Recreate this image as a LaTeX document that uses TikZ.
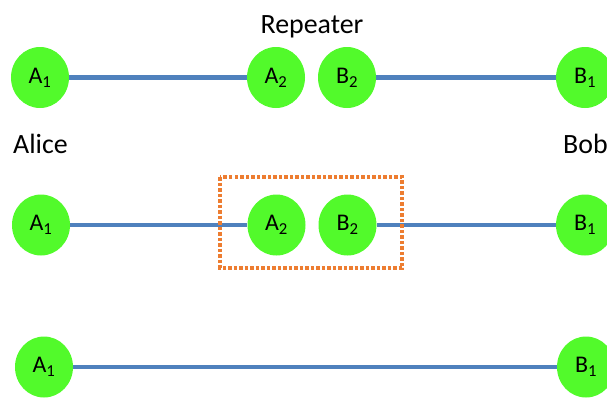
\documentclass[tikz,border=0pt]{standalone}
\usepackage{fontspec}
\setmainfont{Carlito}
\usetikzlibrary{shapes.geometric}
\definecolor{qgreen}{RGB}{82,250,43}
\definecolor{qblue}{RGB}{79,129,189}
\definecolor{qorange}{RGB}{237,125,49}
\tikzset{
  qubit/.style={ellipse, fill=qgreen, draw=none, minimum width=58bp, minimum height=61bp,
                inner sep=0pt, font=\fontsize{24}{26}\selectfont},
  link/.style={draw=qblue, line width=4.5bp},
  swapbox/.style={draw=qorange, line width=3.5bp, dash pattern=on 3.5bp off 2bp},
  caption/.style={font=\fontsize{28}{32}\selectfont, inner sep=0pt}
}
\begin{document}
\begin{tikzpicture}[x=1bp, y=-1bp]
  \useasboundingbox (0,0) rectangle (607,399);

  % captions
  \node[caption, anchor=base] (rep) at (312,33) {Repeater};
  \node[caption, anchor=base west] (alice) at (13,153) {Alice};
  \node[caption, anchor=base west] (bob) at (563,153) {Bob};

  % row 1: two separate entangled pairs
  \node[qubit] (a1r1) at (40,77.5) {A\textsubscript{1}};
  \node[qubit] (a2r1) at (276,77.5) {A\textsubscript{2}};
  \node[qubit] (b2r1) at (347,77.5) {B\textsubscript{2}};
  \node[qubit] (b1r1) at (585,77.5) {B\textsubscript{1}};
  \draw[link] (a1r1) -- (a2r1);
  \draw[link] (b2r1) -- (b1r1);

  % row 2: Bell measurement at the repeater
  \node[qubit] (a1r2) at (41,225) {A\textsubscript{1}};
  \node[qubit] (a2r2) at (276.5,225) {A\textsubscript{2}};
  \node[qubit] (b2r2) at (347.5,225) {B\textsubscript{2}};
  \node[qubit] (b1r2) at (585,225) {B\textsubscript{1}};
  \draw[link] (a1r2) -- (a2r2);
  \draw[link] (b2r2) -- (b1r2);
  \coordinate (bsmnw) at (220,177);
  \coordinate (bsmse) at (402,268);
  \draw[swapbox] (bsmnw) rectangle (bsmse);

  % row 3: swapped entanglement between Alice and Bob
  \node[qubit] (a1r3) at (44,367) {A\textsubscript{1}};
  \node[qubit] (b1r3) at (586,367) {B\textsubscript{1}};
  \draw[link] (a1r3) -- (b1r3);
\end{tikzpicture}
\end{document}
